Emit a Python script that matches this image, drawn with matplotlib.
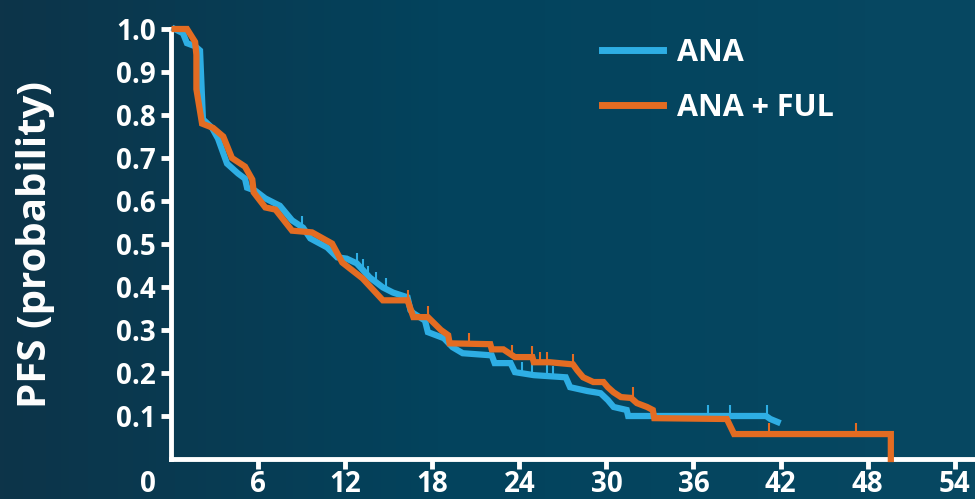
import numpy as np
import matplotlib
matplotlib.use("Agg")
import matplotlib.pyplot as plt
from matplotlib.colors import LinearSegmentedColormap

plt.rcParams['font.family'] = ['Open Sans', 'DejaVu Sans']
plt.rcParams['font.weight'] = 'bold'

# Kaplan-Meier curves (months, probability)
ana_t = [0.25, 0.83, 1.1, 1.66, 2.0, 2.2, 2.83, 3.24, 3.86, 4.62,
         5.1, 5.24, 5.8, 6.5, 7.2, 7.5, 8.34, 9.1, 9.6, 10.76,
         11.45, 12.1, 12.8, 13.7, 14.6, 15.3, 16.3, 16.5, 16.7, 17.5,
         17.7, 18.8, 19.4, 20.1, 22.1, 22.3, 23.4, 23.7, 25.0, 27.2,
         27.5, 28.7, 29.6, 30.1, 30.5, 31.4, 31.5, 41.0, 41.3, 41.8]
ana_s = [1.0, 0.99, 0.967, 0.96, 0.95, 0.79, 0.77, 0.745, 0.687, 0.664,
         0.652, 0.631, 0.624, 0.606, 0.594, 0.589, 0.555, 0.538, 0.513, 0.492,
         0.469, 0.466, 0.455, 0.422, 0.399, 0.387, 0.376, 0.346, 0.339, 0.322,
         0.295, 0.281, 0.26, 0.246, 0.241, 0.223, 0.223, 0.202, 0.195, 0.19,
         0.167, 0.158, 0.153, 0.137, 0.121, 0.114, 0.10, 0.10, 0.093, 0.086]

ful_t = [0.25, 1.1, 1.66, 1.75, 1.75, 2.14, 2.9, 3.6, 4.2, 5.1,
         5.6, 5.7, 6.5, 7.2, 8.34, 9.72, 11.1, 11.8, 13.2, 14.6,
         16.3, 16.7, 17.7, 18.6, 19.1, 19.2, 22.0, 22.1, 22.9, 23.7,
         24.9, 25.0, 26.1, 27.7, 28.0, 28.4, 29.1, 29.8, 30.1, 30.5,
         31.0, 31.7, 32.1, 32.8, 33.2, 33.3, 38.3, 38.8, 49.6, 49.6]
ful_s = [1.0, 1.0, 0.97, 0.94, 0.86, 0.78, 0.77, 0.75, 0.70, 0.68,
         0.65, 0.62, 0.585, 0.58, 0.531, 0.527, 0.501, 0.457, 0.42, 0.369,
         0.369, 0.33, 0.33, 0.30, 0.288, 0.269, 0.267, 0.255, 0.255, 0.237,
         0.237, 0.225, 0.225, 0.22, 0.206, 0.19, 0.179, 0.179, 0.167, 0.155,
         0.144, 0.142, 0.13, 0.121, 0.114, 0.095, 0.093, 0.058, 0.058, 0.0]

# censoring marks
ana_cens_t = [9.0, 12.8, 13.2, 13.6, 14.1, 14.8, 24.2, 24.9, 25.9, 26.3, 37.0, 38.5, 41.1]
ana_cens_s = [0.54, 0.455, 0.44, 0.425, 0.41, 0.395, 0.20, 0.195, 0.193, 0.192, 0.10, 0.10, 0.10]
ful_cens_t = [16.3, 17.7, 20.5, 23.5, 24.9, 25.4, 25.9, 27.7, 31.8, 41.2, 47.2]
ful_cens_s = [0.369, 0.33, 0.267, 0.24, 0.237, 0.225, 0.225, 0.22, 0.142, 0.058, 0.058]

x_ticks = [6, 12, 18, 24, 30, 36, 42, 48, 54]
y_ticks = [0.1, 0.2, 0.3, 0.4, 0.5, 0.6, 0.7, 0.8, 0.9, 1.0]

blue = '#2eaee4'
orange = '#e36c22'
white = 'white'

fig = plt.figure(figsize=(9.75, 4.99), dpi=100)

# background gradient
bg = fig.add_axes([0, 0, 1, 1], zorder=-1)
cmap = LinearSegmentedColormap.from_list('bg', [(0, '#0d3449'), (0.45, '#03435d'), (1, '#074862')])
bg.imshow(np.linspace(0, 1, 256)[None, :], aspect='auto', cmap=cmap, extent=[0, 1, 0, 1])
bg.axis('off')

ax = fig.add_axes([171 / 975, 1 - 459 / 499, 1 - 171 / 975, 430 / 499])
ax.set_facecolor('none')

ax.plot(ana_t, ana_s, color=blue, lw=4.5, solid_joinstyle='miter', label='ANA', clip_on=False, zorder=3)
ax.vlines(ana_cens_t, ana_cens_s, np.array(ana_cens_s) + 0.025, color=blue, lw=1.5, zorder=3)
ax.plot(ful_t, ful_s, color=orange, lw=4.5, solid_joinstyle='miter', label='ANA + FUL', clip_on=False, zorder=4)
ax.vlines(ful_cens_t, ful_cens_s, np.array(ful_cens_s) + 0.025, color=orange, lw=1.5, zorder=4)

ax.set_xlim(0, 55.4)
ax.set_ylim(0, 1.0)

for side in ['top', 'right']:
    ax.spines[side].set_visible(False)
for side in ['left', 'bottom']:
    ax.spines[side].set_color(white)
    ax.spines[side].set_linewidth(3.5)

ax.set_xticks(x_ticks)
ax.set_xticklabels([str(v) for v in x_ticks])
ax.set_yticks(y_ticks)
ax.set_yticklabels(['%.1f' % v for v in y_ticks])
ax.tick_params(axis='x', colors=white, length=7, width=3.5, pad=1, labelsize=20)
ax.tick_params(axis='y', colors=white, length=7, width=3.5, pad=4, labelsize=20)

ax.annotate('0', xy=(0, 0), xycoords='axes fraction', xytext=(-16.5, -8),
            textcoords='offset points', ha='center', va='top',
            color=white, fontsize=20, fontweight='bold')

fig.text(36 / 975, 1 - 245 / 499, 'PFS (probability)', rotation=90,
         ha='center', va='center', color=white, fontsize=29, fontweight='bold')

leg = ax.legend(loc='upper left', bbox_to_anchor=(0.502, 1.044), frameon=False,
                fontsize=22, handlelength=2.0, handletextpad=0.45, labelspacing=0.83)
for txt in leg.get_texts():
    txt.set_color(white)
    txt.set_fontweight('bold')
for line in leg.get_lines():
    line.set_linewidth(5)

fig.savefig('out.png', dpi=100, facecolor=fig.get_facecolor())
